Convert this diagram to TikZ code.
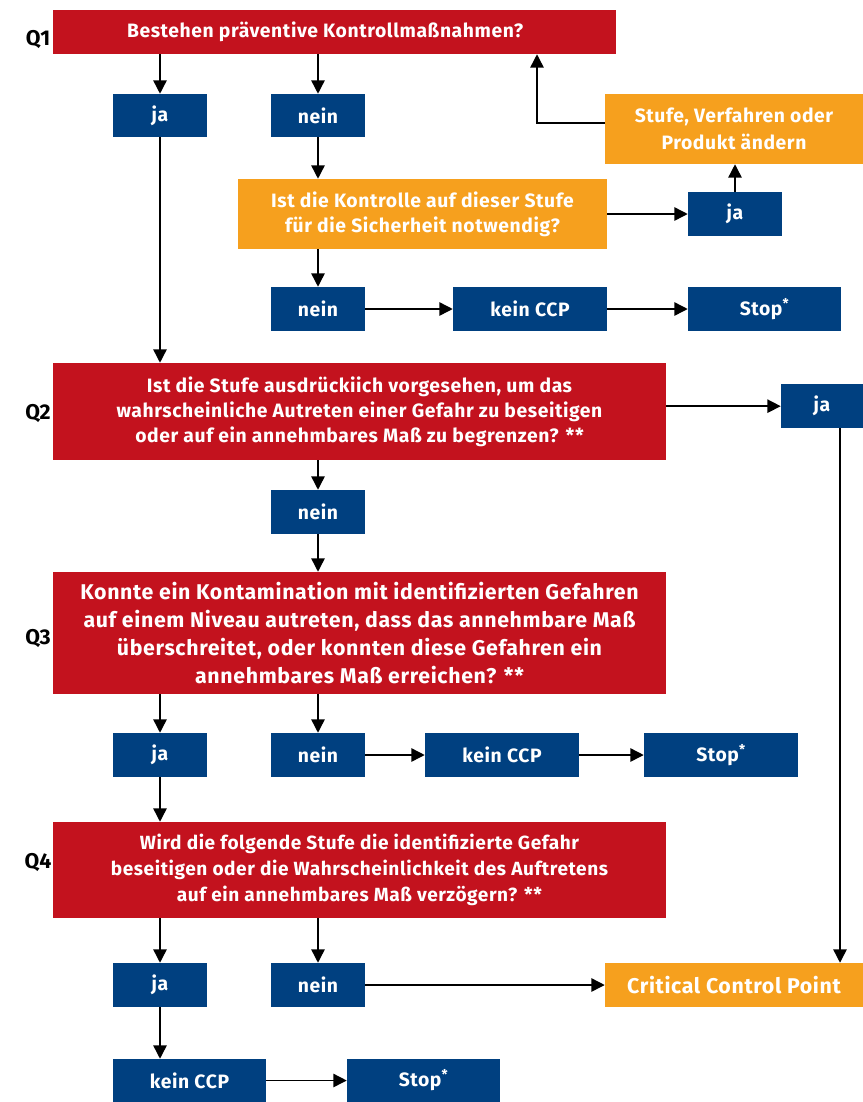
\documentclass[tikz,border=0pt]{standalone}
\usepackage{fontspec}
\setmainfont{Fira Sans}
\usetikzlibrary{arrows.meta, positioning}
\definecolor{haccpred}{RGB}{195,18,30}
\definecolor{haccpblue}{RGB}{0,64,128}
\definecolor{haccporange}{RGB}{246,160,30}
\newcommand{\boxfont}[2]{\bfseries\fontsize{#1}{#2}\selectfont\addfontfeature{LetterSpace=3}}

\begin{document}
\begin{tikzpicture}[
    x=0.75pt, y=-0.75pt,
    flowbox/.style 2 args={inner sep=0pt, minimum width=#1*0.75pt,
        minimum height=#2*0.75pt, align=center, text=white,
        font=\boxfont{14.5}{18.75}},
    question/.style 2 args={flowbox={#1}{#2}, fill=haccpred},
    answer/.style 2 args={flowbox={#1}{#2}, fill=haccpblue},
    action/.style 2 args={flowbox={#1}{#2}, fill=haccporange},
    qlabel/.style={font=\bfseries\fontsize{16}{16}\selectfont},
    arr/.style={-{Triangle[length=10pt,width=10pt]}, line width=1.1pt}
]
\useasboundingbox (0,0) rectangle (863,1102);

% Q1
\node[qlabel] (lq1) at (38,39) {Q1};
\node[question={563}{44}] (q1) at (334.5,32) {Bestehen präventive Kontrollmaßnahmen?\hspace*{14pt}};
\node[answer={94}{43}] (ja1) at (160,115.5) {ja};
\node[answer={94}{43}] (nein1) at (318,115.5) {nein};
\node[action={258}{70}, font=\boxfont{14.5}{20.5}] (aendern) at (734,129) {Stufe, Verfahren oder\\Produkt ändern};
\node[action={369}{70}] (kontrolle) at (422.5,214) {Ist die Kontrolle auf dieser Stufe\\für die Sicherheit notwendig?};
\node[answer={94}{44}] (ja2) at (735,214) {ja};
\node[answer={94}{44}] (nein2) at (318,309) {nein};
\node[answer={154}{44}] (kein1) at (530,309) {kein CCP};
\node[answer={153}{44}] (stop1) at (764.5,309) {Stop\textsuperscript{*}};

% Q2
\node[qlabel] (lq2) at (38,413) {Q2};
\node[question={613}{97}] (q2) at (359.5,411.5) {Ist die Stufe ausdrückiich vorgesehen, um das\\wahrscheinliche Autreten einer Gefahr zu beseitigen\\oder auf ein annehmbares Maß zu begrenzen? **};
\node[answer={82}{44}] (ja3) at (822,406) {ja};
\node[answer={94}{44}] (nein3) at (318,512) {nein};

% Q3
\node[qlabel] (lq3) at (38,638) {Q3};
\node[question={613}{122}, font=\boxfont{16}{21}] (q3) at (359.5,633) {Konnte ein Kontamination mit identifizierten Gefahren\\auf einem Niveau autreten, dass das annehmbare Maß\\überschreitet, oder konnten diese Gefahren ein\\annehmbares Maß erreichen? **};
\node[answer={94}{44}] (ja4) at (160,755) {ja};
\node[answer={94}{44}] (nein4) at (318,755) {nein};
\node[answer={154}{44}] (kein2) at (502,755) {kein CCP};
\node[answer={154}{44}] (stop2) at (721,755) {Stop\textsuperscript{*}};

% Q4
\node[qlabel] (lq4) at (38,862) {Q4};
\node[question={613}{96}, font=\boxfont{14.3}{19.5}] (q4) at (359.5,870) {Wird die folgende Stufe die identifizierte Gefahr\\beseitigen oder die Wahrscheinlichkeit des Auftretens\\auf ein annehmbares Maß verzögern? **};
\node[answer={94}{44}] (ja5) at (160,985) {ja};
\node[answer={94}{44}] (nein5) at (318,985) {nein};
\node[action={258}{44}, font=\boxfont{16}{18}] (ccp) at (734,985) {Critical Control Point};
\node[answer={153}{43}] (kein3) at (189.5,1080.5) {kein CCP};
\node[answer={153}{43}] (stop3) at (423.5,1080.5) {Stop\textsuperscript{*}};

% connectors
\draw[arr] (q1.south -| ja1) -- (ja1);
\draw[arr] (q1.south -| nein1) -- (nein1);
\draw[arr] (ja1) -- (ja1 |- q2.north);
\draw[arr] (nein1) -- (nein1 |- kontrolle.north);
\draw[arr] (kontrolle) -- (ja2);
\draw[arr] (ja2) -- (ja2 |- aendern.south);
\coordinate (back) at (537,0);
\draw[arr] ([yshift=4.5pt]aendern.west) -| (back |- q1.south);
\draw[arr] (kontrolle.south -| nein2) -- (nein2);
\draw[arr] (nein2) -- (kein1);
\draw[arr] (kein1) -- (stop1);
\draw[arr] ([yshift=4pt]q2.east) -- ([yshift=4pt]q2.east -| ja3.west);
\draw[arr] (q2.south -| nein3) -- (nein3);
\draw[arr] (nein3) -- (nein3 |- q3.north);
\draw[arr] (q3.south -| ja4) -- (ja4);
\draw[arr] (q3.south -| nein4) -- (nein4);
\draw[arr] (nein4) -- (kein2);
\draw[arr] (kein2) -- (stop2);
\draw[arr] (ja4) -- (ja4 |- q4.north);
\draw[arr] (q4.south -| ja5) -- (ja5);
\draw[arr] (q4.south -| nein5) -- (nein5);
\draw[arr] (nein5) -- (ccp);
\coordinate (down) at (840,0);
\draw[arr] (down |- ja3.south) -- (down |- ccp.north);
\draw[arr] (ja5.south) -- (ja5.south |- kein3.north);
\draw[arr] (kein3) -- (stop3);
\end{tikzpicture}
\end{document}
